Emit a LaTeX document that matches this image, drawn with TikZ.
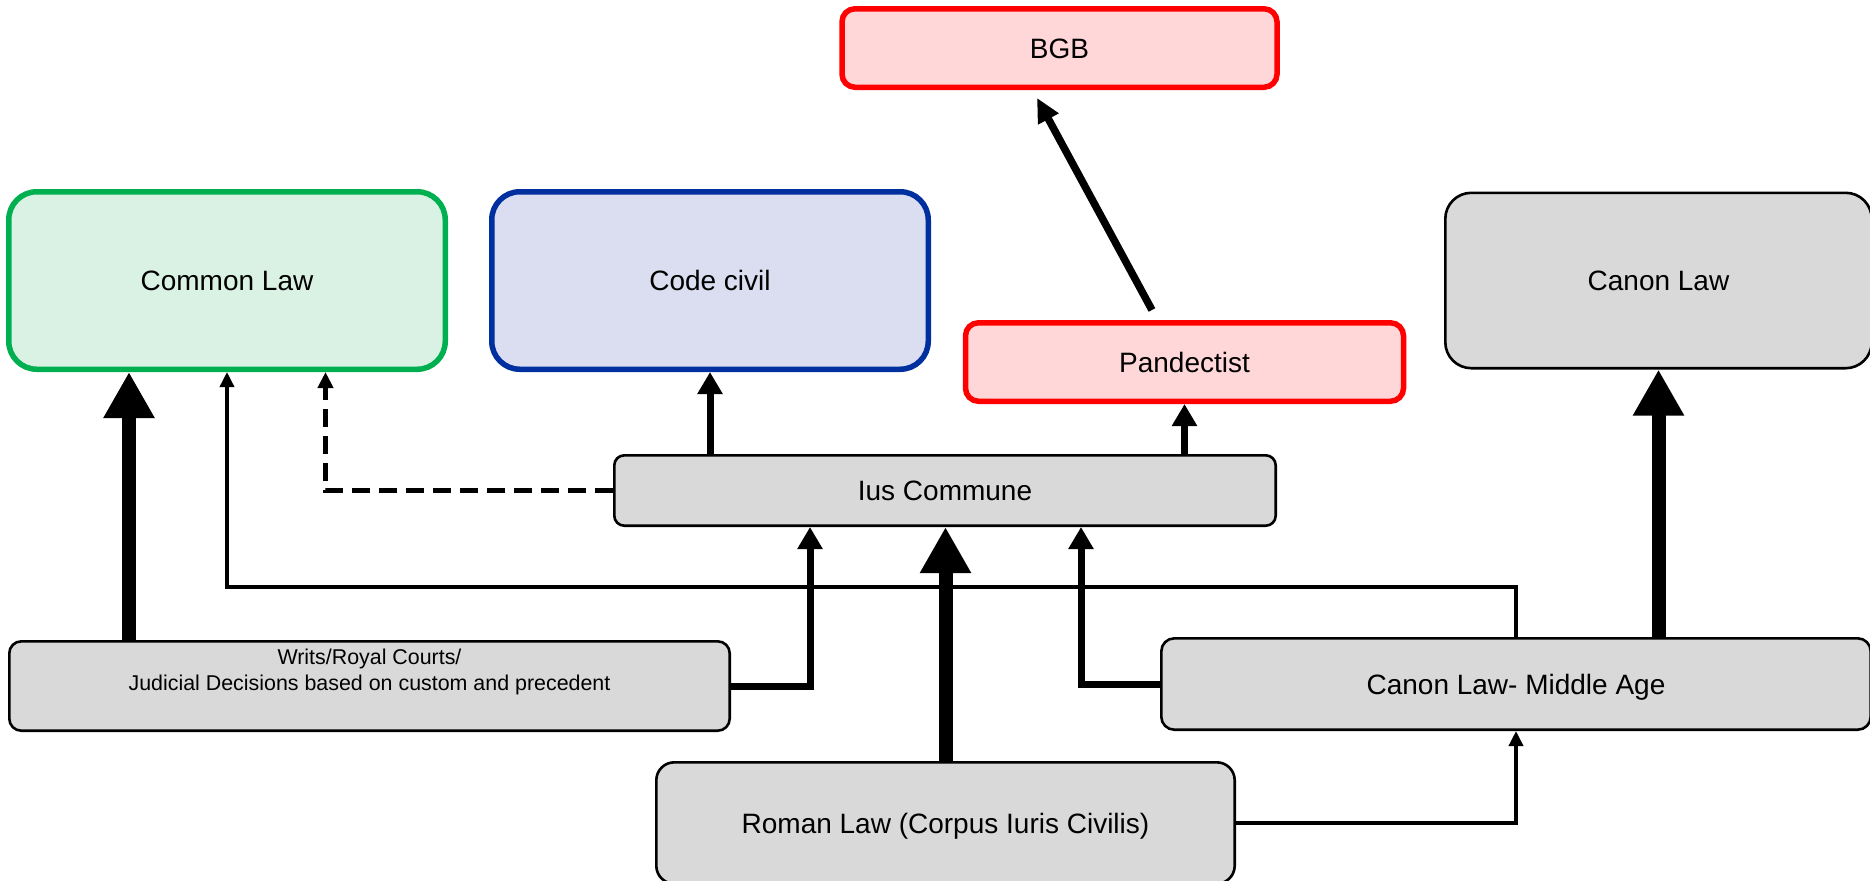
\documentclass[tikz,border=0pt]{standalone}
\usepackage{fontspec}
\setmainfont{Liberation Sans}
\usepackage{xcolor}
\usepackage{tikz}
\usetikzlibrary{arrows.meta}
\usetikzlibrary{positioning}

\definecolor{clfill}{HTML}{D9F2E4}
\definecolor{cldraw}{HTML}{00B050}
\definecolor{ccfill}{HTML}{DADEF0}
\definecolor{ccdraw}{HTML}{0030A0}
\definecolor{bgbfill}{HTML}{FFD7D8}
\definecolor{bgbdraw}{HTML}{FF0000}
\definecolor{boxgray}{HTML}{D9D9D9}

\begin{document}
\begin{tikzpicture}[x=0.5pt,y=-0.5pt,node distance=20pt,
   lawbox/.style={draw,fill=boxgray,line width=1.3pt,rounded corners=6pt,
      font=\fontsize{14}{17}\selectfont,text height=10pt,text depth=0pt},
   greenbox/.style={lawbox,draw=cldraw,fill=clfill,line width=2.75pt,
      rounded corners=14pt,minimum width=218.25pt,minimum height=88.75pt},
   bluebox/.style={greenbox,draw=ccdraw,fill=ccfill},
   redbox/.style={lawbox,draw=bgbdraw,fill=bgbfill,line width=2.75pt,
      rounded corners=6.5pt,minimum width=217.5pt,minimum height=39.25pt},
   heavyarr/.style={line width=7pt,-{Triangle[length=23pt,width=24pt]}},
   midarr/.style={line width=3.5pt,-{Triangle[length=11pt,width=12pt]}},
   lightarr/.style={line width=1.75pt,-{Triangle[length=7.5pt,width=7pt]}},
   dasharr/.style={line width=2.25pt,dash pattern=on 9pt off 4.5pt,
      -{Triangle[length=8pt,width=7.5pt]}},
   bgbarr/.style={line width=3.75pt,-{Triangle[length=12pt,width=11pt]},
      shorten <=5.7pt,shorten >=4.5pt}]
   \useasboundingbox (0,0) rectangle (1870,880);
   \node[greenbox] (CL) at (227,280.5) {Common Law};
   \node[bluebox] (CC) [right=20.5pt of CL] {Code civil};
   \node[lawbox,rounded corners=13pt,minimum width=213.2pt,minimum height=87.7pt]
      (CN) [right=256.5pt of CC] {Canon Law};
   \node[redbox] (BGB) at (1059.5,48) {BGB};
   \node[redbox,minimum width=219pt] (P) at (1184.5,362) {Pandectist};
   \node[lawbox,rounded corners=5pt,minimum width=330.7pt,minimum height=35.2pt]
      (IC) at (945,490.5) {Ius Commune};
   \node[lawbox,minimum width=360.2pt,minimum height=44.7pt,inner ysep=0pt,
      font=\fontsize{10.7}{13}\selectfont,text height=11.35pt,text depth=33.35pt]
      (W) at (369.5,686) {\begin{tabular}[t]{@{}c@{}}Writs/Royal Courts/\\
      Judicial Decisions based on custom and precedent\end{tabular}};
   \node[lawbox,rounded corners=6.5pt,minimum width=354.7pt,minimum height=45.7pt]
      (CM) at (1516,684) {Canon Law- Middle Age};
   \node[lawbox,rounded corners=9pt,minimum width=289.2pt,minimum height=60.7pt]
      (R) at (945.5,823) {Roman Law (Corpus Iuris Civilis)};

   % x and y helpers for the bent connectors
   \coordinate (a1) at (129,0);
   \coordinate (a2) at (810,0);
   \coordinate (a3) at (1081,0);
   \coordinate (a4) at (325.5,0);
   \coordinate (a5) at (0,587);

   \draw[heavyarr] (W.north -| a1) -- (CL.south -| a1);
   \draw[heavyarr] (CM.north -| CN.south) -- (CN.south);
   \draw[heavyarr] (R.north) -- (R.north |- IC.south);
   \draw[midarr] (W.east) -| (IC.south -| a2);
   \draw[midarr] (CM.west) -| (IC.south -| a3);
   \draw[midarr] (IC.north -| CC.south) -- (CC.south);
   \draw[midarr] (IC.north -| P.south) -- (P.south);
   \draw[bgbarr] ([xshift=-13.55pt]P.north) -- ([xshift=-13.4pt]BGB.south);
   \draw[dasharr] (IC.west) -| (CL.south -| a4);
   \draw[lightarr] (CM.north) |- (CL.south |- a5) -- (CL.south);
   \draw[lightarr] (R.east) -| (CM.south);
\end{tikzpicture}
\end{document}
